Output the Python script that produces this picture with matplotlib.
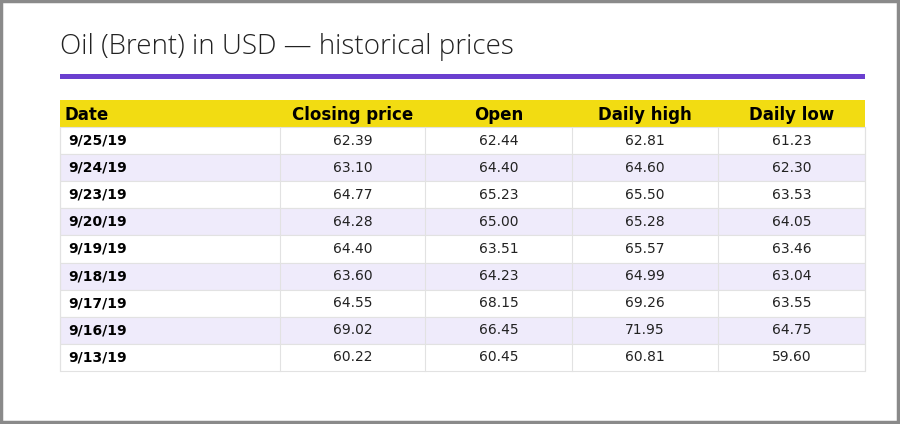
import matplotlib.pyplot as plt
from matplotlib.patches import Rectangle

title = "Oil (Brent) in USD — historical prices"
columns = ["Date", "Closing price", "Open", "Daily high", "Daily low"]
dates = ["9/25/19", "9/24/19", "9/23/19", "9/20/19", "9/19/19",
         "9/18/19", "9/17/19", "9/16/19", "9/13/19"]
closing = [62.39, 63.10, 64.77, 64.28, 64.40, 63.60, 64.55, 69.02, 60.22]
opening = [62.44, 64.40, 65.23, 65.00, 63.51, 64.23, 68.15, 66.45, 60.45]
high = [62.81, 64.60, 65.50, 65.28, 65.57, 64.99, 69.26, 71.95, 60.81]
low = [61.23, 62.30, 63.53, 64.05, 63.46, 63.04, 63.55, 64.75, 59.60]

fig = plt.figure(figsize=(9, 4.24), dpi=100)
ax = fig.add_axes([0, 0, 1, 1])
ax.set_xlim(0, 900)
ax.set_ylim(424, 0)
ax.axis("off")

# frame
ax.add_patch(Rectangle((1, 1), 897, 421, fill=False, edgecolor="#8a8a8a", lw=2.5))

ax.text(60, 47, title, fontsize=20, va="center", ha="left", color="#222222",
        family="Open Sans", fontweight="light")
ax.add_patch(Rectangle((60, 74), 805, 5, color="#6a3fcf", lw=0))

col_edges = [60, 280, 425, 572, 718, 865]
top, head_h, row_h = 100, 27, 27.1

ax.add_patch(Rectangle((60, top), 805, head_h, color="#f2dc12", lw=0))
for i, name in enumerate(columns):
    if i == 0:
        ax.text(64, top + head_h / 2 + 1, name, fontsize=12, fontweight="bold", va="center", ha="left")
    else:
        ax.text((col_edges[i] + col_edges[i + 1]) / 2, top + head_h / 2 + 1, name,
                fontsize=12, fontweight="bold", va="center", ha="center")

vals = [closing, opening, high, low]
for r, d in enumerate(dates):
    y0 = top + head_h + r * row_h
    fc = "#ffffff" if r % 2 == 0 else "#efebfb"
    ax.add_patch(Rectangle((60, y0), 805, row_h, facecolor=fc, edgecolor="#e2e2e2", lw=0.8))
    ax.text(68, y0 + row_h / 2, d, fontsize=10, fontweight="bold", va="center", ha="left")
    for c in range(4):
        ax.text((col_edges[c + 1] + col_edges[c + 2]) / 2, y0 + row_h / 2, f"{vals[c][r]:.2f}",
                fontsize=10, va="center", ha="center", color="#222222")
bottom = top + head_h + len(dates) * row_h
for x in col_edges:
    ax.plot([x, x], [top + head_h, bottom], color="#e2e2e2", lw=0.8)

fig.savefig("out.png", dpi=100)
